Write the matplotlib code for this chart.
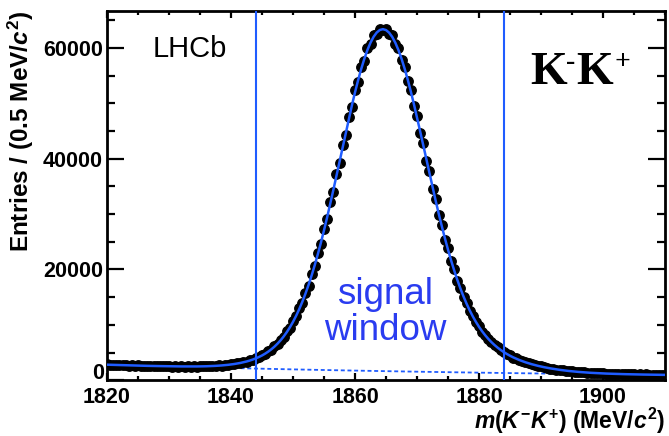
import numpy as np
import matplotlib.pyplot as plt
from matplotlib.ticker import MultipleLocator, FuncFormatter

plt.rcParams['font.family'] = ['Liberation Sans', 'DejaVu Sans']
plt.rcParams['mathtext.fontset'] = 'custom'
plt.rcParams['mathtext.rm'] = 'Liberation Sans:bold'
plt.rcParams['mathtext.it'] = 'Liberation Sans:italic:bold'
plt.rcParams['mathtext.bf'] = 'Liberation Sans:bold'

# m(K-K+) bins, 0.5 MeV wide
mass = np.arange(1820.0, 1910.25, 0.5)

entries = [
    2870, 2760, 2800, 2720, 2760, 2690, 2730, 2650, 2700, 2610,
    2670, 2600, 2640, 2560, 2610, 2540, 2590, 2510, 2560, 2500,
    2540, 2470, 2520, 2460, 2510, 2450, 2500, 2460, 2510, 2470,
    2520, 2480, 2540, 2510, 2590, 2560, 2660, 2630, 2750, 2740,
    2880, 2890, 3050, 3080, 3290, 3340, 3600, 3690, 4010, 4140,
    4550, 4740, 5250, 5510, 6160, 6540, 7330, 7820, 8800, 9470,
    10700, 11520, 13010, 14020, 15830, 17020, 19150, 20560, 23010, 24620,
    27380, 29150, 32180, 34050, 37260, 39170, 42480, 44290, 47620, 49280,
    52390, 53830, 56600, 57700, 59980, 60650, 62330, 62510, 63520, 63200,
    63450, 62540, 62280, 60700, 59950, 57780, 56620, 53990, 52480, 49540,
    47800, 44670, 42790, 39630, 37700, 34620, 32730, 29840, 28060, 25410,
    23800, 21440, 20010, 17950, 16740, 14990, 13950, 12490, 11640, 10430,
    9740, 8750, 8200, 7390, 6950, 6290, 5940, 5400, 5130, 4680,
    4460, 4090, 3920, 3600, 3470, 3200, 3090, 2860, 2770, 2570,
    2500, 2320, 2270, 2110, 2070, 1930, 1900, 1770, 1750, 1640,
    1630, 1520, 1530, 1430, 1440, 1350, 1360, 1280, 1300, 1220,
    1250, 1170, 1200, 1130, 1160, 1100, 1130, 1060, 1100, 1040,
    1080, 1010, 1050, 1000, 1030, 970, 1020, 960, 1000, 950,
    980,
]

fit_total = [
    2800, 2783, 2767, 2750, 2734, 2718, 2702, 2686, 2670, 2653,
    2637, 2622, 2606, 2591, 2585, 2572, 2560, 2547, 2536, 2524,
    2514, 2505, 2497, 2491, 2485, 2481, 2479, 2478, 2480, 2483,
    2490, 2500, 2515, 2537, 2559, 2590, 2624, 2665, 2713, 2772,
    2838, 2917, 3008, 3114, 3237, 3377, 3540, 3727, 3940, 4186,
    4467, 4790, 5158, 5578, 6056, 6599, 7212, 7905, 8687, 9561,
    10539, 11626, 12830, 14156, 15611, 17195, 18914, 20766, 22746, 24850,
    27073, 29405, 31830, 34333, 36895, 39485, 42085, 44665, 47197, 49650,
    51992, 54191, 56215, 58039, 59629, 60965, 62025, 62792, 63254, 63402,
    63239, 62770, 62007, 60957, 59640, 58075, 56286, 54301, 52149, 49856,
    47458, 44983, 42462, 39924, 37395, 34894, 32451, 30084, 27806, 25632,
    23572, 21633, 19817, 18128, 16567, 15129, 13812, 12611, 11519, 10534,
    9641, 8838, 8115, 7465, 6880, 6354, 5882, 5459, 5076, 4731,
    4419, 4136, 3879, 3644, 3431, 3234, 3056, 2890, 2738, 2597,
    2468, 2348, 2238, 2136, 2041, 1953, 1871, 1796, 1727, 1663,
    1603, 1549, 1500, 1454, 1411, 1372, 1336, 1304, 1273, 1246,
    1220, 1196, 1175, 1154, 1136, 1119, 1103, 1089, 1074, 1062,
    1050, 1038, 1028, 1018, 1008, 999, 990, 982, 975, 967,
    960,
]

bkg_mass = [1820, 1825, 1830, 1835, 1840, 1845, 1850, 1855, 1860, 1865,
            1870, 1875, 1880, 1885, 1890, 1895, 1900, 1905, 1910]
bkg_total = [2800, 2637, 2483, 2339, 2203, 2074, 1953, 1840, 1733, 1632,
             1537, 1447, 1363, 1284, 1209, 1138, 1072, 1010, 951]

window = [1844, 1884]

blue = '#1f5cff'

fig = plt.figure(figsize=(6.69, 4.36), dpi=100)
ax = fig.add_axes([0.160, 0.128, 0.834, 0.847])

ax.plot(bkg_mass, bkg_total, ls=(0, (2.2, 1.5)), color=blue, lw=1.3, zorder=1)
ax.plot(mass, entries, 'o', color='black', ms=6.8, mec='black', zorder=2)
ax.plot(mass, fit_total, '-', color=blue, lw=1.8, zorder=3)
for w in window:
    ax.axvline(w, color=blue, lw=1.5, zorder=4)

ax.set_xlim(1820, 1910)
ax.set_ylim(0, 66700)

ax.xaxis.set_major_locator(MultipleLocator(20))
ax.xaxis.set_minor_locator(MultipleLocator(5))
ax.yaxis.set_major_locator(MultipleLocator(20000))
ax.yaxis.set_minor_locator(MultipleLocator(5000))
# the zero of the y axis is written by hand, a bit above the corner
ax.yaxis.set_major_formatter(FuncFormatter(lambda v, pos: '' if v == 0 else f'{v:.0f}'))

for s in ax.spines.values():
    s.set_linewidth(2.0)

ax.tick_params(axis='both', which='both', direction='in', top=True, right=True,
               width=1.6, labelsize=15.5)
ax.tick_params(axis='x', which='major', length=5, pad=5)
ax.tick_params(axis='x', which='minor', length=3)
ax.tick_params(axis='y', which='major', length=12, pad=3)
ax.tick_params(axis='y', which='minor', length=6)
for lab in ax.get_xticklabels() + ax.get_yticklabels():
    lab.set_fontweight('bold')

ax.text(-0.006, 0.018, '0', transform=ax.transAxes, fontsize=15.5,
        fontweight='bold', ha='right', va='center')

ax.set_xlabel(r'$m(K^{-}K^{+})$ (MeV/$c^{2}$)', fontsize=16.5, fontweight='bold',
              loc='right', labelpad=-2)
ax.set_ylabel(r'Entries / (0.5 MeV/$c^{2}$)', fontsize=17.5, fontweight='bold',
              loc='top', labelpad=5)

ax.text(1833.4, 59800, 'LHCb', fontsize=21, ha='center', va='center')

# K-K+ tag, serif with small raised charges
serif = ['Liberation Serif', 'DejaVu Serif']
fig.text(530 / 669, 1 - 84 / 436, 'K', fontsize=34, fontweight='bold',
         family=serif, ha='left', va='baseline')
fig.text(571 / 669, 1 - 62 / 436, '-', fontsize=20, fontweight='bold',
         family=serif, ha='center', va='center')
fig.text(576 / 669, 1 - 84 / 436, 'K', fontsize=34, fontweight='bold',
         family=serif, ha='left', va='baseline')
fig.text(622 / 669, 1 - 63 / 436, '+', fontsize=20, fontweight='bold',
         family=serif, ha='center', va='center')

ax.text(1864.9, 12200, 'signal\nwindow', fontsize=26.5, color='#2a3cf0',
        ha='center', va='center', linespacing=1.05)

fig.savefig('out.png', dpi=100)
